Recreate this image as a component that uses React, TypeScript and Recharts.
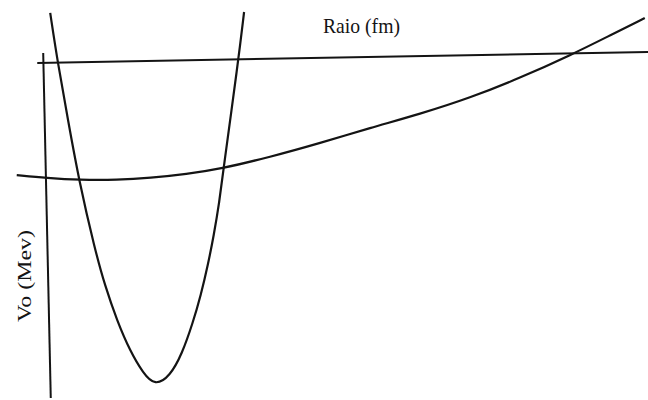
import { LineChart, Line, XAxis, YAxis } from 'recharts';

// eixos desenhados à mão (levemente inclinados)
const raioAxis = [
  { x: 0.69, y: 2.13 },
  { x: 12.0, y: 3.5 },
];

const voAxis = [
  { x: 0.8, y: 3.38 },
  { x: 0.94, y: -39.75 },
];

// poço estreito (parábola)
const narrowWell = [
  { x: 0.93, y: 8.38 },
  { x: 1.07, y: 2.13 },
  { x: 1.26, y: -5.0 },
  { x: 1.46, y: -12.5 },
  { x: 1.76, y: -21.25 },
  { x: 1.94, y: -25.63 },
  { x: 2.17, y: -30.13 },
  { x: 2.41, y: -33.88 },
  { x: 2.65, y: -36.63 },
  { x: 2.87, y: -38.25 },
  { x: 3.15, y: -37.0 },
  { x: 3.37, y: -34.25 },
  { x: 3.57, y: -30.38 },
  { x: 3.72, y: -26.88 },
  { x: 3.85, y: -23.13 },
  { x: 3.96, y: -19.38 },
  { x: 4.06, y: -15.38 },
  { x: 4.13, y: -11.5 },
  { x: 4.41, y: 2.25 },
  { x: 4.52, y: 8.5 },
];

// poço largo
const wideWell = [
  { x: 0.31, y: -11.88 },
  { x: 0.87, y: -12.25 },
  { x: 1.48, y: -12.5 },
  { x: 2.17, y: -12.5 },
  { x: 2.78, y: -12.25 },
  { x: 3.46, y: -11.75 },
  { x: 4.07, y: -11.13 },
  { x: 5.0, y: -9.63 },
  { x: 5.93, y: -7.88 },
  { x: 6.85, y: -6.0 },
  { x: 7.78, y: -4.25 },
  { x: 8.7, y: -2.25 },
  { x: 9.63, y: 0.25 },
  { x: 10.61, y: 3.25 },
  { x: 11.24, y: 5.38 },
  { x: 11.94, y: 7.75 },
];

const INK = '#141414';
const W = 648;
const H = 400;
const SERIF = "'Liberation Serif', serif";

export default function App() {
  return (
    <div style={{ position: 'absolute', left: 0, top: 0, width: W, height: H, background: '#fff' }}>
      <LineChart width={W} height={H} margin={{ top: 0, right: 0, bottom: 0, left: 0 }}>
        <XAxis type="number" dataKey="x" domain={[0, 12]} hide allowDataOverflow />
        <YAxis type="number" dataKey="y" domain={[-40, 10]} hide allowDataOverflow />
        <Line data={raioAxis} dataKey="y" type="linear" stroke={INK} strokeWidth={2} dot={false} activeDot={false} isAnimationActive={false} />
        <Line data={voAxis} dataKey="y" type="linear" stroke={INK} strokeWidth={2} dot={false} activeDot={false} isAnimationActive={false} />
        <Line data={narrowWell} dataKey="y" type="basis" stroke={INK} strokeWidth={2.2} dot={false} activeDot={false} isAnimationActive={false} />
        <Line data={wideWell} dataKey="y" type="basis" stroke={INK} strokeWidth={2.2} dot={false} activeDot={false} isAnimationActive={false} />
      </LineChart>
      <svg width={W} height={H} style={{ position: 'absolute', left: 0, top: 0, pointerEvents: 'none' }}>
        {/* o scan está esticado na vertical: textLength acompanha isso */}
        <text
          x={361.5}
          y={32.5}
          textAnchor="middle"
          fontFamily={SERIF}
          fontSize={22}
          textLength={77}
          lengthAdjust="spacingAndGlyphs"
          fill={INK}
        >
          Raio (fm)
        </text>
        <text
          x={31}
          y={276}
          textAnchor="middle"
          transform="rotate(-90 31 276)"
          fontFamily={SERIF}
          fontSize={18}
          textLength={92}
          lengthAdjust="spacingAndGlyphs"
          fill={INK}
        >
          Vo (Mev)
        </text>
      </svg>
    </div>
  );
}
